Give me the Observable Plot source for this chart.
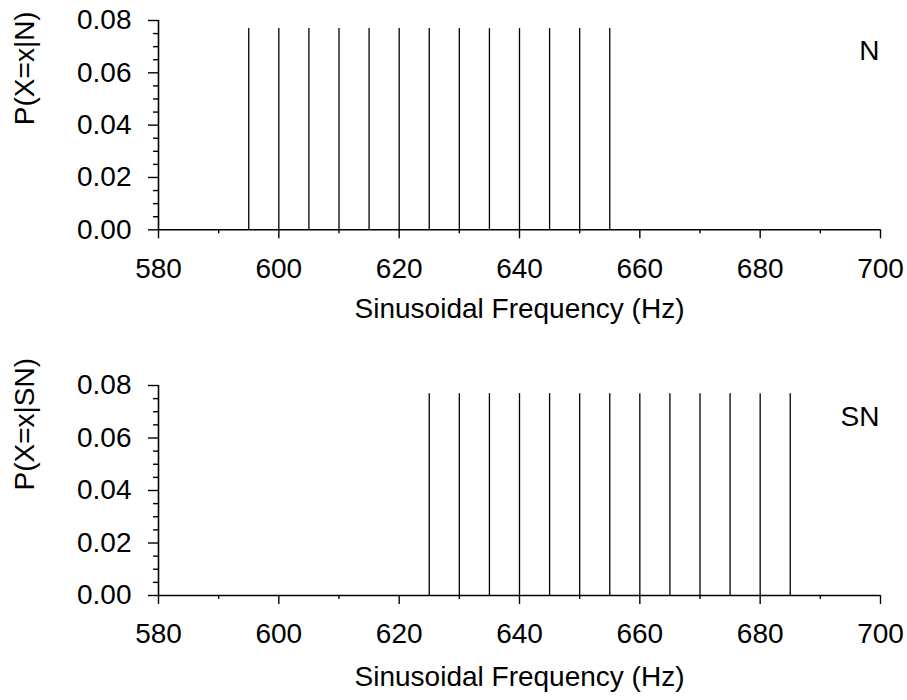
<!DOCTYPE html>
<html><head><meta charset="utf-8">
<script src="https://cdn.jsdelivr.net/npm/d3@7"></script>
<script src="https://cdn.jsdelivr.net/npm/@observablehq/plot@0.6"></script>
<style>body{margin:0;background:#fff} svg{display:block}</style>
</head><body><div id="c"></div>
<script>
const freqN = [595,600,605,610,615,620,625,630,635,640,645,650,655];
const probN = [0.0769,0.0769,0.0769,0.0769,0.0769,0.0769,0.0769,0.0769,0.0769,0.0769,0.0769,0.0769,0.0769];
const freqSN = [625,630,635,640,645,650,655,660,665,670,675,680,685];
const probSN = [0.0769,0.0769,0.0769,0.0769,0.0769,0.0769,0.0769,0.0769,0.0769,0.0769,0.0769,0.0769,0.0769];
const xMajor = [580,600,620,640,660,680,700];
const xMinor = [590,610,630,650,670,690];
const yMajor = [0,0.02,0.04,0.06,0.08];
const yMinor = [0.005,0.01,0.015,0.025,0.03,0.035,0.045,0.05,0.055,0.065,0.07,0.075];
const xLabel = "Sinusoidal Frequency (Hz)";
const panels = [
  {freq: freqN, prob: probN, ylabel: "P(X=x|N)", tag: "N", top: 20, bottom: 120.7, titleDy: 88, tagDy: 20},
  {freq: freqSN, prob: probSN, ylabel: "P(X=x|SN)", tag: "SN", top: 35, bottom: 105, titleDy: 90, tagDy: 21}
];
const font = "'Liberation Sans', Arial, sans-serif";
const fs = 28;
for (const p of panels) {
  const data = p.freq.map((f, i) => ({f, p: p.prob[i]}));
  const chart = Plot.plot({
    width: 907, height: 350,
    marginLeft: 158, marginRight: 27, marginTop: p.top, marginBottom: p.bottom,
    style: {fontSize: fs + "px", fontFamily: font, color: "#000", background: "#fff"},
    x: {domain: [580, 700]},
    y: {domain: [0, 0.08]},
    marks: [
      Plot.axisX({ticks: xMajor, tickSize: 9, tickPadding: 19, label: null, strokeWidth: 1.4, fontSize: fs}),
      Plot.axisX({ticks: xMinor, tickSize: 4, tickFormat: () => "", label: null, strokeWidth: 1.4}),
      Plot.axisY({ticks: yMajor, tickSize: 10, tickPadding: 17, tickFormat: d3.format(".2f"), label: null, strokeWidth: 1.4, fontSize: fs}),
      Plot.axisY({ticks: yMinor, tickSize: 5, tickFormat: () => "", label: null, strokeWidth: 1.4}),
      Plot.ruleX([580], {y1: 0, y2: 0.08, strokeWidth: 1.6}),
      Plot.ruleY([0], {x1: 580, x2: 700, strokeWidth: 1.6}),
      Plot.ruleX(data, {x: "f", y1: 0, y2: "p", stroke: "#000", strokeWidth: 1.3}),
      Plot.text([xLabel], {text: d => d, frameAnchor: "bottom", dy: p.titleDy, fontSize: fs}),
      Plot.text([p.ylabel], {text: d => d, frameAnchor: "left", dx: -133, rotate: -90, fontSize: fs}),
      Plot.text([p.tag], {text: d => d, frameAnchor: "top-right", textAnchor: "end", dx: -1, dy: p.tagDy, fontSize: fs})
    ]
  });
  document.getElementById("c").appendChild(chart);
}
</script>
</body></html>
